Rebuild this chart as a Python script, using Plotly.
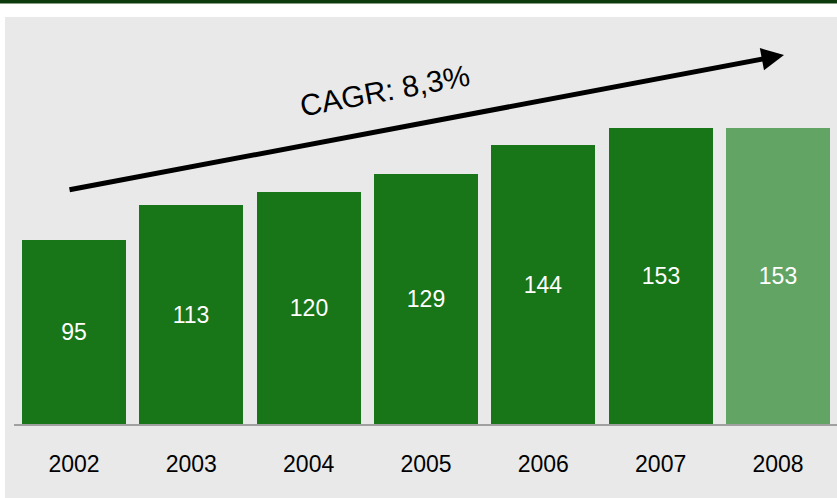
import plotly.graph_objects as go

years = ["2002", "2003", "2004", "2005", "2006", "2007", "2008"]
values = [95, 113, 120, 129, 144, 153, 153]
bar_colors = ["#187518"] * 6 + ["#62a463"]
cagr_label = "CAGR: 8,3%"

W, H = 837, 498
ml, mr, mt, mb = 14, 0, 17, 74
pw, ph = W - ml - mr, H - mt - mb

def px_x(p):
    return (p - ml) / pw

def px_y(p):
    return (H - mb - p) / ph

fig = go.Figure(go.Bar(
    x=years, y=values,
    marker=dict(color=bar_colors, line=dict(width=0)),
    text=[str(v) for v in values],
    textposition="inside", insidetextanchor="middle",
    textfont=dict(color="white", size=23, family="Liberation Sans, Arial"),
    width=0.886,
    hoverinfo="skip",
))

shapes = [
    dict(type="rect", xref="paper", yref="paper", layer="below",
         x0=px_x(5), x1=px_x(W + 5), y0=px_y(H + 5), y1=px_y(17),
         fillcolor="#e9e9e9", line=dict(width=0)),
    dict(type="rect", xref="paper", yref="paper",
         x0=px_x(-5), x1=px_x(W + 5), y0=px_y(3.5), y1=px_y(-2),
         fillcolor="#0c3a0c", line=dict(width=0)),
]

annotations = [
    dict(xref="paper", yref="paper", axref="pixel", ayref="pixel",
         x=px_x(784), y=px_y(55), ax=68 - 784, ay=190 - 55,
         text="", showarrow=True, arrowhead=2, arrowsize=0.9,
         arrowwidth=5, arrowcolor="black"),
    dict(xref="paper", yref="paper", x=px_x(385), y=px_y(91),
         text=cagr_label, showarrow=False, textangle=-10.5,
         font=dict(size=30, color="black", family="Liberation Sans, Arial"),
         xanchor="center", yanchor="middle"),
]

fig.update_layout(
    width=W, height=H,
    margin=dict(l=ml, r=mr, t=mt, b=mb),
    paper_bgcolor="white", plot_bgcolor="rgba(0,0,0,0)",
    showlegend=False, bargap=0,
    shapes=shapes, annotations=annotations,
    xaxis=dict(range=[-0.511, 6.503], showline=True, linecolor="#a0a0a0",
               linewidth=2, showgrid=False, zeroline=False, ticks="",
               tickfont=dict(size=23, color="black", family="Liberation Sans, Arial"),
               ticklabelstandoff=18, fixedrange=True),
    yaxis=dict(range=[0, 210.4], visible=False, showgrid=False, zeroline=False,
               fixedrange=True),
    font=dict(family="Liberation Sans, Arial"),
)

fig.write_html("out.html", config=dict(displayModeBar=False),
               post_script="document.body.style.margin='0';document.body.style.overflow='hidden';")
